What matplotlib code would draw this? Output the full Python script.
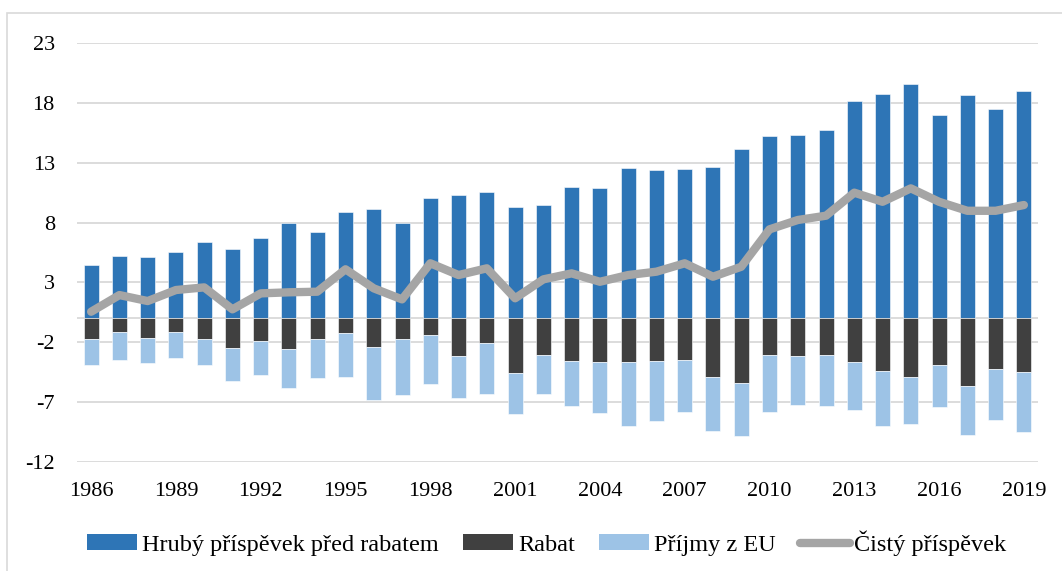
import matplotlib
matplotlib.use("Agg")
import matplotlib.pyplot as plt
import numpy as np
from matplotlib.lines import Line2D
from matplotlib.patches import Patch, Rectangle

years = list(range(1986, 2020))
hruby = [4.45, 5.18, 5.12, 5.56, 6.35, 5.81, 6.71, 7.96, 7.18, 8.87,
         9.10, 7.96, 10.07, 10.27, 10.52, 9.32, 9.43, 10.93, 10.85, 12.54,
         12.41, 12.44, 12.63, 14.10, 15.19, 15.32, 15.74, 18.13, 18.74, 19.55,
         16.99, 18.61, 17.44, 18.97]
rabat = [-1.72, -1.13, -1.61, -1.13, -1.72, -2.47, -1.89, -2.55, -1.72, -1.22,
         -2.39, -1.72, -1.38, -3.16, -2.08, -4.55, -3.08, -3.55, -3.61, -3.64,
         -3.55, -3.50, -4.86, -5.39, -3.05, -3.14, -3.08, -3.66, -4.39, -4.89,
         -3.89, -5.64, -4.22, -4.50]
prijmy = [-2.19, -2.34, -2.14, -2.15, -2.14, -2.78, -2.81, -3.28, -3.25, -3.64,
          -4.39, -4.67, -4.12, -3.48, -4.25, -3.42, -3.20, -3.73, -4.25, -5.36,
          -4.98, -4.33, -4.51, -4.39, -4.76, -4.11, -4.20, -3.98, -4.58, -3.89,
          -3.47, -4.06, -4.28, -5.00]
cisty = [0.56, 1.95, 1.45, 2.37, 2.59, 0.76, 2.09, 2.18, 2.23, 4.10,
         2.51, 1.59, 4.60, 3.62, 4.18, 1.68, 3.26, 3.76, 3.06, 3.62,
         3.90, 4.60, 3.48, 4.31, 7.43, 8.21, 8.57, 10.49, 9.73, 10.85,
         9.73, 8.98, 8.98, 9.46]
yticks = [-12, -7, -2, 3, 8, 13, 18, 23]
labels = ["Hrubý příspěvek před rabatem", "Rabat", "Příjmy z EU", "Čistý příspěvek"]

c_blue = "#2E75B6"
c_dark = "#404040"
c_light = "#9DC3E6"
c_line = "#A5A5A5"

plt.rcParams['font.family'] = ['Liberation Serif', 'DejaVu Serif']

fig = plt.figure(figsize=(10.62, 5.71), dpi=100)
ax = fig.add_axes([77/1062, 1-462.3/571, (1038-77)/1062, (462.3-42.7)/571])

fig.patches.append(Rectangle((7/1062, -0.1), 1.1, 1.1 - 13/571,
                             transform=fig.transFigure, fill=False,
                             edgecolor="#D9D9D9", linewidth=1.2, zorder=0))

x = np.arange(len(years))
w = 0.53
ax.bar(x, hruby, w, color=c_blue, edgecolor="white", linewidth=0.4, zorder=3)
ax.bar(x, rabat, w, color=c_dark, edgecolor="white", linewidth=0.4, zorder=3)
ax.bar(x, prijmy, w, bottom=rabat, color=c_light, edgecolor="white", linewidth=0.4, zorder=3)
ax.plot(x, cisty, color=c_line, linewidth=6, solid_capstyle="round",
        solid_joinstyle="round", zorder=4)

ax.set_xlim(-0.5, len(years) - 0.5)
ax.set_ylim(-12, 23)
ax.set_yticks(yticks)
ax.set_yticklabels([str(t) for t in yticks])
ax.set_xticks(x[::3])
ax.set_xticklabels([str(y) for y in years[::3]])
ax.tick_params(axis="y", length=0, pad=16, labelsize=16)
ax.tick_params(axis="x", length=0, pad=14, labelsize=16)
ax.grid(axis="y", color="#D9D9D9", linewidth=1.3, zorder=0)
ax.axhline(0, color="#D9D9D9", linewidth=1.3, zorder=1)
for s in ax.spines.values():
    s.set_visible(False)

handles = [Patch(facecolor=c_blue), Patch(facecolor=c_dark), Patch(facecolor=c_light),
           Line2D([0], [0], color=c_line, linewidth=6, solid_capstyle="round")]
fig.legend(handles, labels, loc="center", bbox_to_anchor=(547/1062, 1-543/571),
           ncol=4, frameon=False, fontsize=17.5, handlelength=2.05, handleheight=0.6,
           handletextpad=0.2, columnspacing=1.0)

fig.savefig("out.png", dpi=100)
